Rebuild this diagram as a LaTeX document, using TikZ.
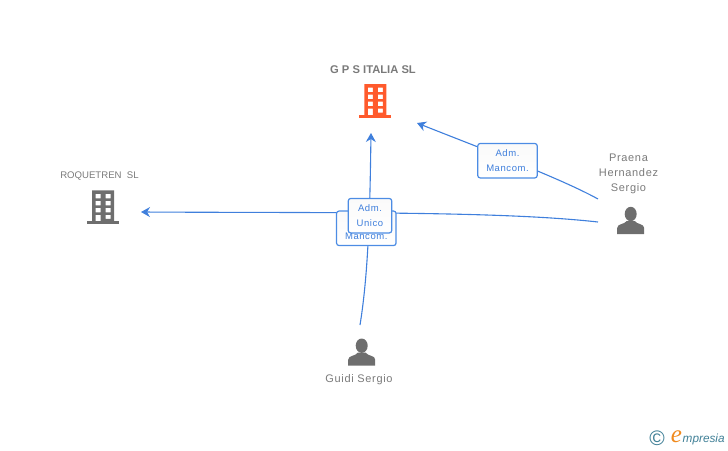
\documentclass[tikz,border=0pt]{standalone}
\usepackage{fontspec}
\setmainfont{Liberation Sans}
\newfontfamily\spacedfont[LetterSpace=6]{Liberation Sans}
\newfontfamily\logofont{Liberation Serif}
\usetikzlibrary{arrows.meta}
\definecolor{linkblue}{HTML}{3F7FDC}
\definecolor{boxblue}{HTML}{4C8CE4}
\definecolor{icongray}{HTML}{6E6E6E}
\definecolor{textgray}{HTML}{7A7A7A}
\definecolor{iconorange}{HTML}{FF5A2C}
\definecolor{logoteal}{HTML}{3F7F96}
\definecolor{logoorange}{HTML}{F08A1E}
\tikzset{
  link/.style={linkblue, line width=1.1pt},
  arrowlink/.style={link, -{Stealth[length=9pt,width=10pt]}},
  rolebox/.style={draw=boxblue, line width=1.2pt, rounded corners=2.5pt, top color=black!2, bottom color=white,
    inner sep=0pt, align=center, text=linkblue, font=\fontsize{9.5}{15}\spacedfont},
  persontext/.style={text=textgray, align=center, font=\fontsize{11}{15}\spacedfont},
  pics/buildingicon/.style={code={
    \fill[#1, even odd rule] (-11,-16) rectangle (11,15)
      (-7.5,-12.5) rectangle (-2.5,-8) (2.5,-12.5) rectangle (7.5,-8)
      (-7.5,-5.5) rectangle (-2.5,-1) (2.5,-5.5) rectangle (7.5,-1)
      (-7.5,1.5) rectangle (-2.5,6) (2.5,1.5) rectangle (7.5,6)
      (-7.5,8.5) rectangle (-2.5,15) (2.5,8.5) rectangle (7.5,12.5);
    \fill[#1] (-16,15) rectangle (16,18);
  }},
  pics/personicon/.style={code={
    \fill[icongray] (0,-20) ellipse (6 and 7.2);
    \fill[icongray] (-13.5,0) -- (-13.5,-6) .. controls (-13.5,-10.5) and (-6,-9.5) .. (-4,-13)
      -- (4,-13) .. controls (6,-9.5) and (13.5,-10.5) .. (13.5,-6) -- (13.5,0) -- cycle;
  }}
}

\begin{document}
\begin{tikzpicture}[x=1pt,y=-1pt]
    \useasboundingbox (0,0) rectangle (728,450);
    % end points of the links
    \coordinate (guidiend) at (360,325);
    \coordinate (gpsbelow) at (371,133);
    \coordinate (gpsside) at (417,123);
    \coordinate (roquetrenside) at (141,212);
    \coordinate (praenaupper) at (598,199);
    \coordinate (praenalower) at (598,222);
    % links
    \draw[arrowlink] (guidiend) .. controls (369,270) and (370,200) .. (gpsbelow);
    \draw[arrowlink] (praenalower) .. controls (500,211) and (330,213) .. (roquetrenside);
    \draw[arrowlink] (praenaupper) .. controls (560,178) and (480,148) .. (gpsside);
    % boxes on the links
    \node[rolebox, minimum width=59.5pt, minimum height=34.5pt] (mancomright) at (507.5,160.7) {Adm.\\Mancom.};
    \node[rolebox, minimum width=59.5pt, minimum height=34.5pt] (mancomcentre) at (366.3,228.3) {Adm.\\Mancom.};
    \node[rolebox, minimum width=43.5pt, minimum height=34.5pt] (unico) at (370,215.7) {Adm.\\Unico};
    % companies
    \pic at (375.3,100) {buildingicon=iconorange};
    \pic at (103,206.4) {buildingicon=icongray};
    \node[text=textgray, font=\fontsize{11.2}{12}\bfseries] (gpsname) at (373,70) {G P S ITALIA SL};
    \node[text=textgray, font=\fontsize{9.6}{12}\selectfont] (roquetrenname) at (99.5,176) {ROQUETREN\ \ SL};
    % people
    \pic at (630.7,234) {personicon};
    \pic at (361.7,365.7) {personicon};
    \node[persontext] (praenaname) at (628.5,173.5) {Praena\\Hernandez\\Sergio};
    \node[persontext] (guidiname) at (359,380) {Guidi Sergio};
    % logo
    \node[text=logoteal, font=\fontsize{21}{21}\selectfont] (logomark) at (657,438.5) {©};
    \node[text=logoorange, font=\fontsize{25}{25}\logofont\itshape] (logoe) at (676.5,436.5) {e};
    \node[text=logoteal, anchor=west, inner sep=0pt, font=\fontsize{11.8}{12}\itshape] (logoname) at (682.5,439.5) {mpresia};
\end{tikzpicture}
\end{document}
